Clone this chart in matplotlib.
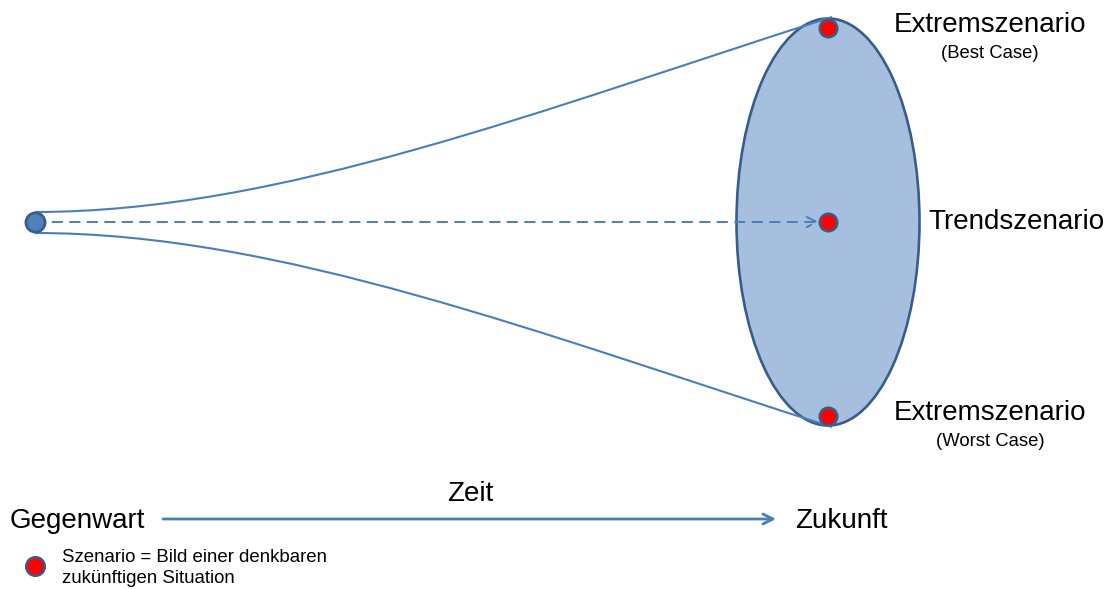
import numpy as np
import matplotlib.pyplot as plt
from matplotlib.patches import Ellipse, PathPatch
from matplotlib.path import Path

plt.rcParams['font.family'] = ['Liberation Sans', 'DejaVu Sans']

# --- data (pixel coordinates of a 1113x589 canvas, y downwards) ---
start_point = (35, 222)
scenario_x = [828, 828, 828]
scenario_y = [28, 222, 416]
scenario_labels = ["Extremszenario", "Trendszenario", "Extremszenario"]
scenario_sub = ["(Best Case)", "", "(Worst Case)"]
label_x = [990, 1016, 990]
label_y = [25, 222, 413]
sub_y = [53, None, 442]
legend_text = "Szenario = Bild einer denkbaren\nzukünftigen Situation"

LINE = '#4A7EBB'
EDGE = '#385D8A'
FILL = '#A7BFDE'

fig = plt.figure(figsize=(11.13, 5.89), dpi=100)
ax = fig.add_axes([0, 0, 1, 1])
ax.set_xlim(0, 1113)
ax.set_ylim(589, 0)
ax.axis('off')

# ellipse of possible futures
ax.add_patch(Ellipse((828, 222), 183, 407, facecolor=FILL, edgecolor=EDGE,
                     linewidth=1.9, zorder=2))

# funnel curves
for y0, y1, yc in [(212, 17, 110), (233, 427, 334)]:
    verts = [(35, y0), (280, y0), (540, yc), (832, y1)]
    path = Path(verts, [Path.MOVETO, Path.CURVE4, Path.CURVE4, Path.CURVE4])
    ax.add_patch(PathPatch(path, facecolor='none', edgecolor=LINE,
                           linewidth=1.5, zorder=3))

# dashed trend arrow
ax.annotate("", xy=(819, 222), xytext=(35, 222),
            arrowprops=dict(arrowstyle='->', color=LINE, lw=1.4,
                            linestyle=(0, (5, 4)), mutation_scale=18,
                            shrinkA=0, shrinkB=0), zorder=3)

# present and scenario points
ax.scatter([start_point[0]], [start_point[1]], s=190, color='#4F81BD',
           edgecolor=EDGE, linewidth=2.0, zorder=5)
ax.scatter(scenario_x, scenario_y, s=160, color='#FF0000',
           edgecolor=EDGE, linewidth=1.8, zorder=5)

for lx, ly, lab, sub, sy in zip(label_x, label_y, scenario_labels, scenario_sub, sub_y):
    ax.text(lx, ly, lab, fontsize=20, ha='center', va='center')
    if sub:
        ax.text(lx, sy, sub, fontsize=13.3, ha='center', va='center')

# time axis
ax.annotate("", xy=(776, 519), xytext=(163, 519),
            arrowprops=dict(arrowstyle='->', color=LINE, lw=2.0,
                            mutation_scale=18, shrinkA=0, shrinkB=0))
ax.text(10, 521, "Gegenwart", fontsize=20, ha='left', va='center')
ax.text(795, 521, "Zukunft", fontsize=20, ha='left', va='center')
ax.text(470, 494, "Zeit", fontsize=20, ha='center', va='center')

# legend
ax.scatter([35], [566], s=180, color='#FF0000', edgecolor=EDGE,
           linewidth=1.8, zorder=5)
ax.text(62, 568, legend_text, fontsize=13.4, ha='left', va='center',
        linespacing=1.3)

fig.savefig("out.png", dpi=100)
